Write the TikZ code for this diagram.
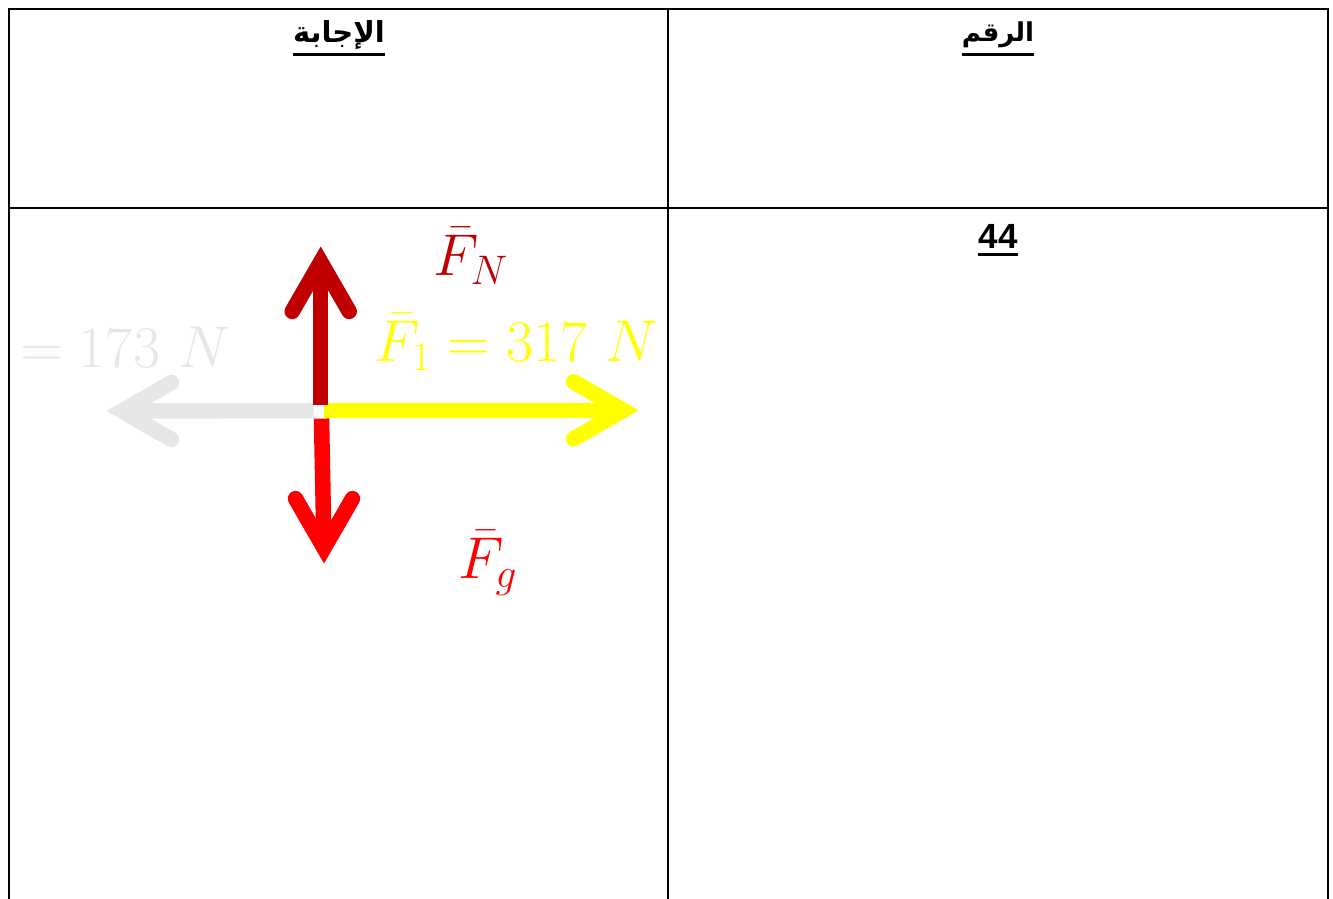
\RequirePackage{fix-cm}
\documentclass[tikz,border=0pt]{standalone}
\usepackage{amsmath}
\usepackage{fontspec}
\TeXXeTstate=1
\newfontfamily\arabicfont[Script=Arabic]{DejaVu Sans}
\newfontfamily\tablefont{Liberation Sans}
\definecolor{forceDark}{HTML}{C00000}
\definecolor{forceRed}{HTML}{FF0000}
\definecolor{forceYellow}{HTML}{FFFF00}
\definecolor{forceGray}{HTML}{E6E6E6}
\usetikzlibrary{calc}

\begin{document}
\begin{tikzpicture}[
  x=1pt, y=-1pt,
  rule/.style  = {line width=2pt, black},
  shaft/.style = {line width=15.5pt},
  barb/.style  = {line width=15.5pt, line cap=round, line join=miter},
  vec/.style   = {inner sep=0pt, anchor=base west,
                  font=\fontsize{59}{64}\selectfont},
  head/.style  = {inner sep=0pt,
                  font=\arabicfont\bfseries\fontsize{29}{34}\selectfont},
  num/.style   = {inner sep=0pt,
                  font=\tablefont\bfseries\fontsize{35}{40}\selectfont},
  uline/.style = {line width=3pt, black},
]

\useasboundingbox (0,0) rectangle (1333,899);

% Table rules
\draw[rule] (9,899) -- (9,9) -- (1328,9) -- (1328,899);
\draw[rule] (668,9) -- (668,899);
\draw[rule] (9,208) -- (1328,208);

% Headers
\node[head] (hAns) at (339,35) {\beginR الإجابة\endR};
\node[head, font=\arabicfont\bfseries\fontsize{26}{30}\selectfont] (hNum) at (998,35) {\beginR الرقم\endR};
\draw[uline] ($(hAns.south west)+(0,5)$) -- ($(hAns.south east)+(0,5)$);
\draw[uline] ($(hNum.south west)+(0,6)$) -- ($(hNum.south east)+(0,6)$);

% Question number
\node[num] (qNum) at (998,236.5) {44};
\draw[uline] ($(qNum.south west)+(0,6)$) -- ($(qNum.south east)+(0,6)$);

% Force ends
\coordinate (fnBase) at (320.7,404.5);
\coordinate (fnTip)  at (320.7,262);
\coordinate (fgBase) at (321.5,418.6);
\coordinate (fgTip)  at (324,548);
\coordinate (f2Base) at (313.7,410.5);
\coordinate (f2Tip)  at (122,411);
\coordinate (f1Base) at (324.2,410.3);
\coordinate (f1Tip)  at (623,410.3);

% Forces
\draw[shaft, forceGray] (f2Base) -- (f2Tip);
\draw[barb, forceGray] ($(f2Tip)+(49.4,-28.5)$) -- (f2Tip) -- ($(f2Tip)+(49.4,28.5)$);
\draw[shaft, forceYellow] (f1Base) -- (f1Tip);
\draw[barb, forceYellow] ($(f1Tip)+(-49.4,-28.5)$) -- (f1Tip) -- ($(f1Tip)+(-49.4,28.5)$);
\draw[shaft, forceDark] (fnBase) -- (fnTip);
\draw[barb, forceDark] ($(fnTip)+(-28.5,49.4)$) -- (fnTip) -- ($(fnTip)+(28.5,49.4)$);
\draw[shaft, forceRed] (fgBase) -- (fgTip);
\draw[barb, forceRed] ($(fgTip)+(-28.5,-49.4)$) -- (fgTip) -- ($(fgTip)+(28.5,-49.4)$);

% Labels
\node[vec, text=forceDark]   (lblN) at (433,275.5) {$\bar{F}_N$};
\node[vec, text=forceYellow] (lbl1) at (374,361.4) {$\bar{F}_1 = 317\ N$};
\node[vec, text=forceGray]   (lbl2) at (20,367.5) {$= 173\ N$};
\node[vec, text=forceRed]    (lblG) at (458,578.6) {$\bar{F}_g$};

\end{tikzpicture}
\end{document}
